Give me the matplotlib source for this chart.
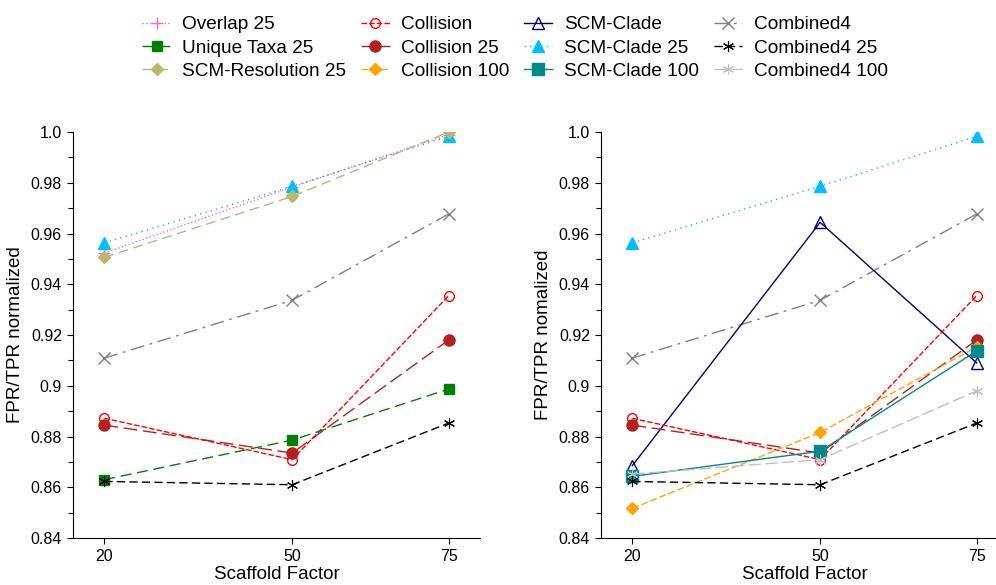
import matplotlib
matplotlib.use("Agg")
import matplotlib.pyplot as plt
from matplotlib.ticker import MultipleLocator

plt.rcParams['font.family'] = ['Liberation Sans', 'DejaVu Sans']

scaffold = [20, 50, 75]

# series values
overlap_25 = [0.9523, 0.9783, 0.9990]
unique_taxa_25 = [0.8630, 0.8786, 0.8987]
scm_res_25 = [0.9506, 0.9746, 1.0000]
collision = [0.8872, 0.8709, 0.9355]
collision_25 = [0.8845, 0.8735, 0.9180]
collision_100 = [0.8517, 0.8816, 0.9153]
scm_clade = [0.8685, 0.9644, 0.9090]
scm_clade_25 = [0.9563, 0.9786, 0.9983]
scm_clade_100 = [0.8643, 0.8742, 0.9137]
combined4 = [0.9109, 0.9337, 0.9677]
combined4_25 = [0.8623, 0.8610, 0.8853]
combined4_100 = [0.8652, 0.8709, 0.8980]

asterisk = (6, 2, 0)

# label, values, style
styles = {
    "Overlap 25": (overlap_25, dict(color="hotpink", ls=":", marker="+", ms=8)),
    "Unique Taxa 25": (unique_taxa_25, dict(color="green", ls=(0, (8, 4)), marker="s", ms=7)),
    "SCM-Resolution 25": (scm_res_25, dict(color="darkkhaki", ls=(0, (7, 4)), marker="D", ms=6)),
    "Collision": (collision, dict(color="red", ls=(0, (4, 1.5)), marker="o", ms=7, mfc="none")),
    "Collision 25": (collision_25, dict(color="firebrick", ls=(0, (10, 4)), marker="o", ms=8)),
    "Collision 100": (collision_100, dict(color="orange", ls=(0, (5, 2)), marker="D", ms=6)),
    "SCM-Clade": (scm_clade, dict(color="navy", ls="-", marker="^", ms=8, mfc="none")),
    "SCM-Clade 25": (scm_clade_25, dict(color="deepskyblue", ls=(0, (1, 3)), marker="^", ms=8)),
    "SCM-Clade 100": (scm_clade_100, dict(color="darkcyan", ls="-", marker="s", ms=8)),
    "Combined4": (combined4, dict(color="gray", ls=(0, (10, 4, 2, 4)), marker="x", ms=8)),
    "Combined4 25": (combined4_25, dict(color="black", ls=(0, (6, 3)), marker=asterisk, ms=8, mew=0.8)),
    "Combined4 100": (combined4_100, dict(color="silver", ls=(0, (9, 3)), marker=asterisk, ms=8, mew=0.8)),
}

left_series = ["Overlap 25", "SCM-Clade 25", "SCM-Resolution 25", "Combined4",
               "Collision", "Collision 25", "Unique Taxa 25", "Combined4 25"]
right_series = ["SCM-Clade 25", "Combined4", "SCM-Clade", "Collision", "Collision 25",
                "Collision 100", "SCM-Clade 100", "Combined4 100", "Combined4 25"]

fig = plt.figure(figsize=(9.96, 5.85), dpi=100)
ax1 = fig.add_axes([0.0733, 0.0803, 0.4086, 0.694])
ax2 = fig.add_axes([0.6034, 0.0803, 0.4086, 0.694])

handles = {}
for ax, names, ylabel in [(ax1, left_series, "FPR/TPR normalized"),
                          (ax2, right_series, "FPR/TPR nomalized")]:
    for name in names:
        vals, st = styles[name]
        ln, = ax.plot(scaffold, vals, lw=1.0, label=name, **st)
        handles[name] = ln
    ax.set_xlim(15, 80)
    ax.set_ylim(0.84, 1.0)
    ax.set_xticks(scaffold)
    ax.set_yticks([0.84, 0.86, 0.88, 0.9, 0.92, 0.94, 0.96, 0.98, 1.0])
    ax.set_yticklabels(["0.84", "0.86", "0.88", "0.9", "0.92", "0.94", "0.96", "0.98", "1.0"])
    ax.yaxis.set_minor_locator(MultipleLocator(0.01))
    ax.spines['top'].set_visible(False)
    ax.spines['right'].set_visible(False)
    ax.tick_params(direction="out", length=4, width=0.8, labelsize=11.5, pad=4)
    ax.tick_params(which="minor", direction="out", length=3.5, width=0.8)
    ax.set_xlabel("Scaffold Factor", fontsize=13.5, labelpad=1)
    ax.set_ylabel(ylabel, fontsize=13.5, labelpad=5)

order = ["Overlap 25", "Unique Taxa 25", "SCM-Resolution 25",
         "Collision", "Collision 25", "Collision 100",
         "SCM-Clade", "SCM-Clade 25", "SCM-Clade 100",
         "Combined4", "Combined4 25", "Combined4 100"]
fig.legend([handles[n] for n in order], order, loc="upper center",
           bbox_to_anchor=(0.517, 1.0), ncol=4, frameon=False, fontsize=13.7,
           handlelength=1.5, handletextpad=0.6, columnspacing=0.77,
           labelspacing=0.3, borderaxespad=0.45)

plt.savefig("out.png", dpi=100)
plt.close()
